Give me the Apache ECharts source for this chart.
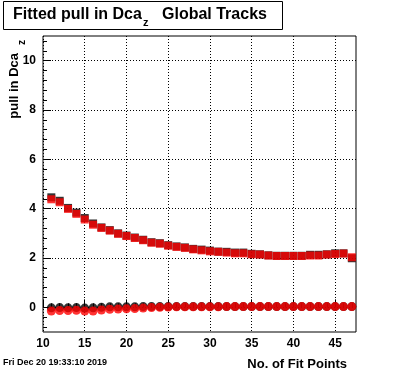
<!DOCTYPE html>
<html>
<head>
<meta charset="utf-8">
<script src="https://cdn.jsdelivr.net/npm/echarts@6/dist/echarts.min.js"></script>
<style>
html,body{margin:0;padding:0;background:#fff;}
#chart{width:396px;height:372px;}
</style>
</head>
<body>
<div id="chart"></div>
<script>
// ---- data ----
var fitPoints = [11,12,13,14,15,16,17,18,19,20,21,22,23,24,25,26,27,28,29,30,31,32,33,34,35,36,37,38,39,40,41,42,43,44,45,46,47];
var redSquares = [4.38,4.26,3.99,3.79,3.56,3.35,3.22,3.11,2.98,2.89,2.81,2.72,2.62,2.58,2.50,2.45,2.41,2.35,2.31,2.27,2.25,2.22,2.19,2.19,2.15,2.14,2.10,2.08,2.08,2.08,2.08,2.10,2.10,2.14,2.16,2.18,2.03];
var blackSquares = [4.46,4.32,4.03,3.84,3.62,3.40,3.24,3.13,3.00,2.91,2.83,2.74,2.64,2.60,2.52,2.47,2.43,2.37,2.34,2.30,2.26,2.25,2.22,2.22,2.17,2.15,2.11,2.09,2.09,2.09,2.09,2.13,2.13,2.15,2.19,2.19,1.99];
var redCircles = [-0.15,-0.13,-0.13,-0.12,-0.15,-0.15,-0.11,-0.08,-0.07,-0.06,-0.05,-0.03,-0.01,0.00,0.01,0.02,0.02,0.02,0.02,0.02,0.02,0.03,0.03,0.03,0.03,0.03,0.03,0.03,0.03,0.03,0.03,0.03,0.03,0.03,0.03,0.03,0.03];
var blackCircles = [-0.02,-0.01,-0.02,-0.01,-0.03,-0.02,0.00,0.02,0.02,0.02,0.02,0.03,0.03,0.03,0.03,0.03,0.03,0.03,0.03,0.03,0.03,0.03,0.03,0.03,0.03,0.03,0.03,0.03,0.03,0.03,0.03,0.03,0.03,0.03,0.03,0.03,0.03];

var xMajorTicks = [10,15,20,25,30,35,40,45];
var xMinorTicks = [11,12,13,14,16,17,18,19,21,22,23,24,26,27,28,29,31,32,33,34,36,37,38,39,41,42,43,44,46,47];
var yMajorTicks = [0,2,4,6,8,10];
var yMinorTicks = [-0.8,-0.4,0.4,0.8,1.2,1.6,2.4,2.8,3.2,3.6,4.4,4.8,5.2,5.6,6.4,6.8,7.2,7.6,8.4,8.8,9.2,9.6,10.4,10.8];

function pairs(xs, ys){ var out=[]; for(var i=0;i<xs.length;i++){ out.push([xs[i], ys[i]]); } return out; }

var chart = echarts.init(document.getElementById('chart'), null, {renderer:'canvas'});
var FONT = '"Liberation Sans", Arial, Helvetica, sans-serif';
var dotted = {color:'#000', width:1, type:[1,2]};

var option = {
  animation:false,
  backgroundColor:'#fff',
  grid:{left:43, right:40, top:36, bottom:40, show:true, borderColor:'#000', borderWidth:1, backgroundColor:'transparent'},
  xAxis:[
    {type:'value', min:10, max:47.5, position:'bottom',
     axisLine:{show:false},
     axisTick:{show:true, inside:true, length:8, customValues:xMajorTicks, lineStyle:{color:'#000'}},
     axisLabel:{show:true, customValues:xMajorTicks, color:'#000', fontFamily:FONT, fontWeight:'bold', fontSize:12, margin:6},
     splitLine:{show:true, lineStyle:dotted}},
    {type:'value', min:10, max:47.5, position:'bottom',
     axisLine:{show:false},
     axisTick:{show:true, inside:true, length:4, customValues:xMinorTicks, lineStyle:{color:'#000'}},
     axisLabel:{show:false},
     splitLine:{show:false}}
  ],
  yAxis:[
    {type:'value', min:-1, max:11, position:'left',
     axisLine:{show:false},
     axisTick:{show:true, inside:true, length:8, customValues:yMajorTicks, lineStyle:{color:'#000'}},
     axisLabel:{show:true, customValues:yMajorTicks, color:'#000', fontFamily:FONT, fontWeight:'bold', fontSize:12, margin:7},
     splitLine:{show:true, lineStyle:dotted}},
    {type:'value', min:-1, max:11, position:'left',
     axisLine:{show:false},
     axisTick:{show:true, inside:true, length:4, customValues:yMinorTicks, lineStyle:{color:'#000'}},
     axisLabel:{show:false},
     splitLine:{show:false}}
  ],
  series:[
    {type:'scatter', name:'black squares', symbol:'rect', symbolSize:8, itemStyle:{color:'#000'}, data:pairs(fitPoints, blackSquares), z:2},
    {type:'scatter', name:'black circles', symbol:'circle', symbolSize:9, itemStyle:{color:'#000'}, data:pairs(fitPoints, blackCircles), z:2},
    {type:'scatter', name:'red squares', symbol:'rect', symbolSize:8, itemStyle:{color:'#ff0000'}, data:pairs(fitPoints, redSquares), z:3},
    {type:'scatter', name:'red circles', symbol:'circle', symbolSize:9, itemStyle:{color:'#ff0000'}, data:pairs(fitPoints, redCircles), z:3}
  ],
  graphic:[
    {type:'rect', shape:{x:3.5, y:1.5, width:279, height:28}, style:{fill:'#fff', stroke:'#000', lineWidth:1}, z:10},
    {type:'text', x:13, y:15, style:{text:'Fitted pull in Dca', font:'bold 16px '+FONT, fill:'#000', verticalAlign:'middle', align:'left'}, z:11},
    {type:'text', x:143, y:23, style:{text:'z', font:'bold 11px '+FONT, fill:'#000', verticalAlign:'middle', align:'left'}, z:11},
    {type:'text', x:162, y:15, style:{text:'Global Tracks', font:'bold 16px '+FONT, fill:'#000', verticalAlign:'middle', align:'left'}, z:11},
    {type:'text', x:14.5, y:53, rotation:Math.PI/2, style:{text:'pull in Dca', font:'bold 13px '+FONT, fill:'#000', verticalAlign:'middle', align:'right'}, z:11},
    {type:'text', x:22, y:40, rotation:Math.PI/2, style:{text:'z', font:'bold 10px '+FONT, fill:'#000', verticalAlign:'middle', align:'right'}, z:11},
    {type:'text', x:347, y:364, style:{text:'No. of Fit Points', font:'bold 13px '+FONT, fill:'#000', verticalAlign:'middle', align:'right'}, z:11},
    {type:'text', x:3, y:363, style:{text:'Fri Dec 20 19:33:10 2019', font:'bold 9px '+FONT, fill:'#000', verticalAlign:'middle', align:'left'}, z:11}
  ]
};
chart.setOption(option);
</script>
</body>
</html>
